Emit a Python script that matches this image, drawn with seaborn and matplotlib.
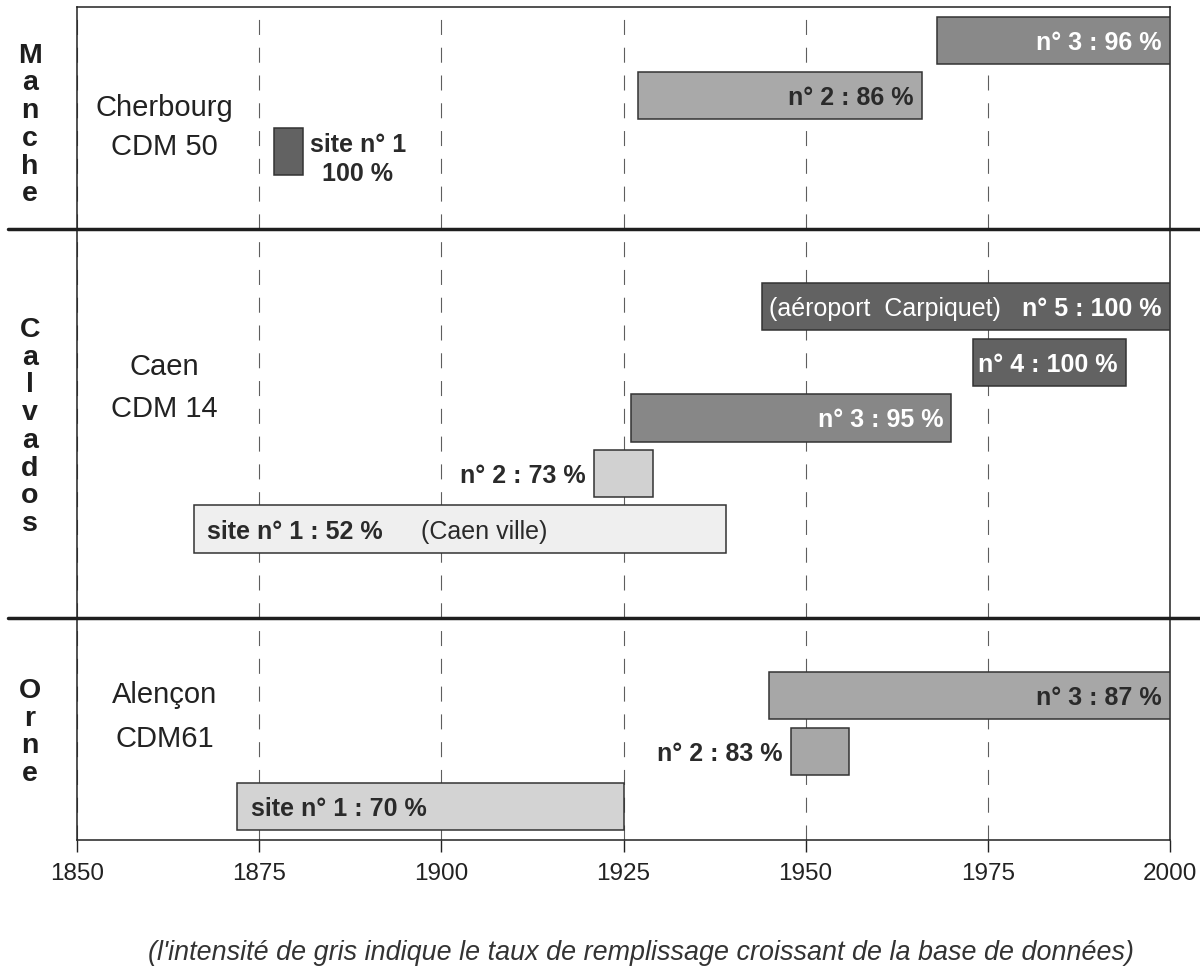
import numpy as np
import pandas as pd
import matplotlib
matplotlib.use("Agg")
import matplotlib.pyplot as plt
import matplotlib.transforms as mtransforms
import seaborn as sns

# ------------------------------------------------------------------ data
departments = ["Manche", "Calvados", "Orne"]
archive_city = ["Cherbourg", "Caen", "Alençon"]
archive_code = ["CDM 50", "CDM 14", "CDM61"]

bar_department = ["Manche", "Manche", "Manche",
                  "Calvados", "Calvados", "Calvados", "Calvados", "Calvados",
                  "Orne", "Orne", "Orne"]
site_number = [1, 2, 3, 1, 2, 3, 4, 5, 1, 2, 3]
start_year = [1877, 1927, 1968, 1866, 1921, 1926, 1973, 1944, 1872, 1948, 1945]
end_year = [1881, 1966, 2000, 1939, 1929, 1970, 1994, 2000, 1925, 1956, 2000]
fill_rate = [100, 86, 96, 52, 73, 95, 100, 100, 70, 83, 87]
site_note = ["", "", "", "(Caen ville)", "", "", "", "(aéroport  Carpiquet)", "", "", ""]

x_ticks = [1850, 1875, 1900, 1925, 1950, 1975, 2000]
caption = ("(l'intensité de gris indique le taux de remplissage croissant "
           "de la base de données)")

# ------------------------------------------------------------------ style / layout
grey_for_rate = {52: "#efefef", 70: "#d3d3d3", 73: "#d1d1d1", 83: "#a7a7a7",
                 86: "#a9a9a9", 87: "#a7a7a7", 95: "#878787", 96: "#898989",
                 100: "#626262"}
label_place = ["out_right", "in_right", "in_right",
               "in_left", "out_left", "in_right", "in_right", "in_right",
               "in_left", "out_left", "in_right"]
first_row = {"Manche": 0.6, "Calvados": 5.4, "Orne": 12.4}   # row of top bar
separators = [4.0, 11.0]
letter_first_baseline = [1.0, 5.94, 12.44]
city_baseline = [(1.96, 2.67), (6.63, 7.38), (12.54, 13.32)]
N_ROWS = 15.0

REG = ["Liberation Sans", "DejaVu Sans"]
DARK = "#2a2a2a"

sns.set_theme(style="white")
plt.rcParams["font.family"] = REG

fig = plt.figure(figsize=(12, 9.76), dpi=100)
ax = fig.add_axes([77 / 1200, 1 - 840 / 976, (1170 - 77) / 1200, (840 - 7) / 976])

df = pd.DataFrame({
    "dept": bar_department, "site": site_number, "start": start_year,
    "end": end_year, "rate": fill_rate, "note": site_note, "place": label_place,
})
n_sites = df.groupby("dept")["site"].transform("max")
df["row"] = df["dept"].map(first_row) + (n_sites - df["site"])
df["duration"] = df["end"] - df["start"]
df = df.sort_values("row").reset_index(drop=True)

sns.barplot(data=df, x="duration", y="row", orient="y", native_scale=True,
            width=0.85, errorbar=None, ax=ax, color="#888888", saturation=1,
            left=df["start"].to_numpy(),
            facecolor=[grey_for_rate[r] for r in df["rate"]],
            edgecolor="#333333", linewidth=1.1, zorder=3)

ax.set_xlim(1850, 2000)
ax.set_ylim(N_ROWS, 0)
ax.set_xticks(x_ticks)
ax.set_yticks([])
ax.set_xlabel("")
ax.set_ylabel("")
ax.tick_params(axis="x", direction="out", length=8.5, width=1.0, color="#222222",
               pad=8, labelsize=17.5, labelcolor="#222222", bottom=True)
for lab in ax.get_xticklabels():
    lab.set_family(REG)
for sp in ax.spines.values():
    sp.set_visible(True)
    sp.set_color("#222222")
    sp.set_linewidth(1.1)
ax.set_axisbelow(True)
ax.grid(axis="x", color="#5e5e5e", linestyle=(0, (13.5, 11.5)), linewidth=0.8)
ax.grid(axis="y", visible=False)

# department separators (reach past the frame)
for y in separators:
    ax.axhline(y, xmin=-0.063, xmax=1.03, color="#1e1e1e", linewidth=2.5,
               clip_on=False, zorder=5)

# labels of the bars
for _, r in df.iterrows():
    place = r["place"]
    inside = place.startswith("in_")
    col = "white" if (r["rate"] >= 95 and inside) else DARK
    if r["site"] == 1:
        txt = f"site n° 1 : {r['rate']} %"
    else:
        txt = f"n° {r['site']} : {r['rate']} %"
    if place == "in_right":
        xy, off, ha = (r["end"], r["row"]), (-6, 0), "right"
    elif place == "out_left":
        xy, off, ha = (r["start"], r["row"]), (-6, 0), "right"
    elif place == "in_left":
        xy, off, ha = (r["start"], r["row"]), (10, 0), "left"
    else:
        txt = f"site n° 1\n{r['rate']} %"
        xy, off, ha = (r["end"], r["row"]), (5, -2), "left"
    lab = ax.annotate(txt, xy=xy, xytext=off, textcoords="offset points",
                      ha=ha, va="center_baseline", ma="center", fontsize=18,
                      fontweight="bold", color=col, family=REG, zorder=6,
                      linespacing=1.3)
    if r["note"]:
        if place == "in_left":
            ax.annotate(r["note"], xy=(1, 0), xycoords=lab, xytext=(27, 0),
                        textcoords="offset points", ha="left", va="bottom",
                        fontsize=18, color=col, family=REG, zorder=6)
        else:
            ax.annotate(r["note"], xy=(r["start"], r["row"]), xytext=(5, 0),
                        textcoords="offset points", ha="left",
                        va="center_baseline", fontsize=18, color=col,
                        family=REG, zorder=6)

# department names (vertical letters) and archive names
blend = mtransforms.blended_transform_factory(ax.transAxes, ax.transData)
for dept, y0 in zip(departments, letter_first_baseline):
    for i, ch in enumerate(dept):
        ax.text(-0.043, y0 + 0.5 * i, ch, transform=blend, ha="center",
                va="baseline", fontsize=20.5, fontweight="bold", color="#1e1e1e",
                family=REG, clip_on=False)

for city, code, (y1, y2) in zip(archive_city, archive_code, city_baseline):
    ax.text(1862, y1, city, ha="center", va="baseline", fontsize=21,
            color="#222222", family=REG)
    ax.text(1862, y2, code, ha="center", va="baseline", fontsize=21,
            color="#222222", family=REG)

fig.text(641 / 1200, 1 - 953 / 976, caption, ha="center", va="center",
         fontsize=19.4, style="italic", color="#333333", family=REG)

fig.savefig("out.png", dpi=100, facecolor="white")
